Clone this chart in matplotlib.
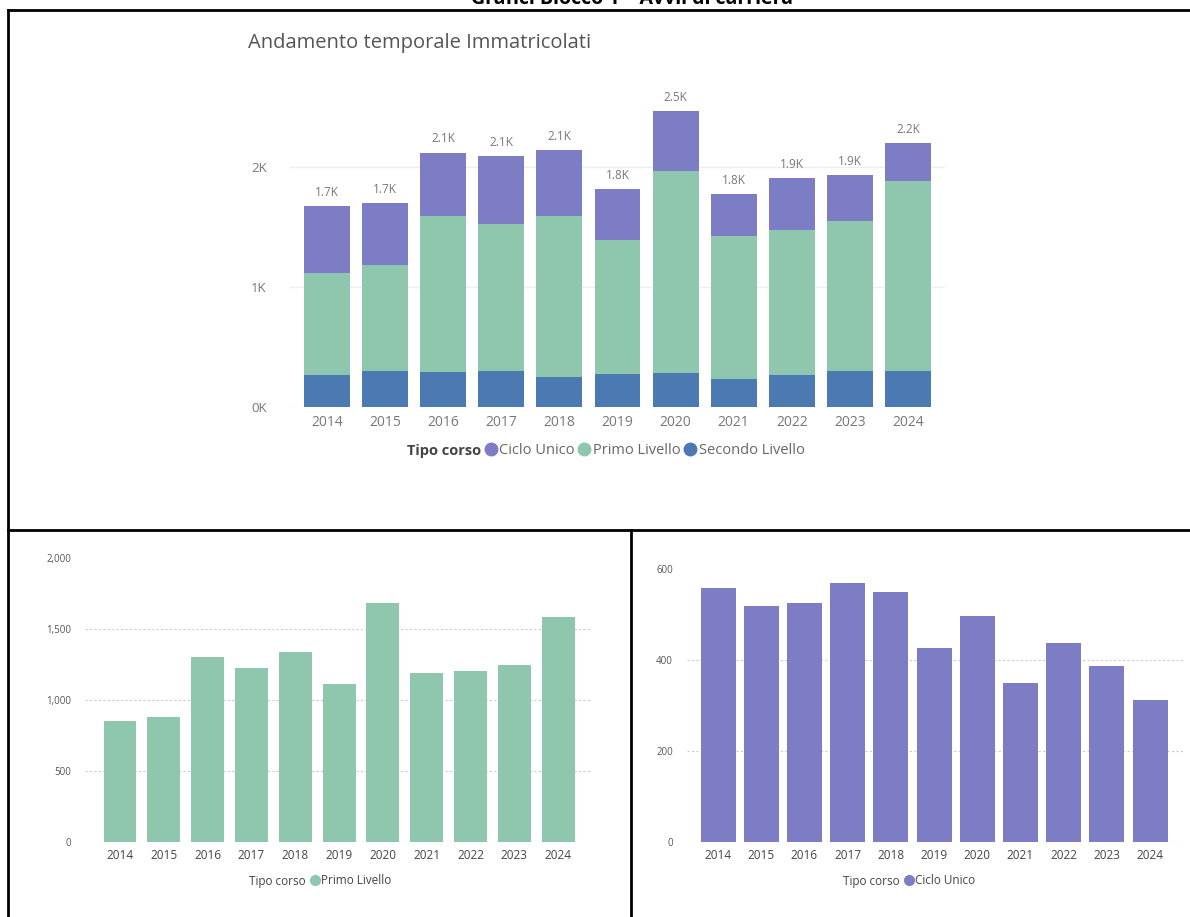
import matplotlib
matplotlib.use("Agg")
import matplotlib.pyplot as plt
import numpy as np
from matplotlib.lines import Line2D

plt.rcParams['font.family'] = ['Open Sans', 'DejaVu Sans']

# dati
anni = ["2014", "2015", "2016", "2017", "2018", "2019", "2020", "2021", "2022", "2023", "2024"]
secondo_livello = [267, 300, 292, 300, 250, 275, 283, 233, 267, 300, 300]
primo_livello = [852, 880, 1303, 1225, 1340, 1113, 1683, 1190, 1204, 1246, 1585]
ciclo_unico = [558, 519, 525, 569, 550, 426, 497, 349, 437, 387, 312]
serie = ["Ciclo Unico", "Primo Livello", "Secondo Livello"]

c_ciclo = "#7D7DC5"
c_primo = "#8FC6AE"
c_secondo = "#4B79B1"
grigio = "#777777"

W, H = 1190, 917
fig = plt.figure(figsize=(W / 100, H / 100), dpi=100)

# cornici della tabella (coordinate in pixel)
bg = fig.add_axes([0, 0, 1, 1])
bg.set_xlim(0, W)
bg.set_ylim(H, 0)
bg.axis('off')
bg.plot([8, W], [10, 10], color="black", lw=2)
bg.plot([8, 8], [10, H], color="black", lw=2)
bg.plot([8, W], [530, 530], color="black", lw=2)
bg.plot([631, 631], [530, H], color="black", lw=2)
bg.text(632, 4, "Grafici Blocco 1 \u2013 Avvii di carriera", ha="center", va="baseline",
        fontsize=14, fontweight="bold", color="black")

x = np.arange(len(anni))
sec = np.array(secondo_livello)
pri = np.array(primo_livello)
cic = np.array(ciclo_unico)
tot = sec + pri + cic

# grafico in alto: barre impilate
ax = fig.add_axes([290 / W, 1 - 407 / H, 655 / W, 312 / H])
ax.bar(x, sec, width=0.79, color=c_secondo, zorder=2)
ax.bar(x, pri, width=0.79, bottom=sec, color=c_primo, zorder=2)
ax.bar(x, cic, width=0.79, bottom=sec + pri, color=c_ciclo, zorder=2)
for i in range(len(anni)):
    ax.text(x[i], tot[i] + 60, "{:.1f}K".format(tot[i] / 1000), ha="center", va="bottom",
            fontsize=8.5, color=grigio)
ax.set_xlim(-0.64, 10.64)
ax.set_ylim(0, 2600)
ax.set_xticks(x)
ax.set_xticklabels(anni)
ax.set_yticks([0, 1000, 2000])
ax.set_yticklabels(["0K", "1K", "2K"], ha="left")
ax.tick_params(axis="y", length=0, pad=28, labelsize=9.5, labelcolor=grigio)
ax.tick_params(axis="x", length=0, pad=6, labelsize=10, labelcolor=grigio)
ax.grid(axis="y", color="#eeeeee", lw=1, zorder=0)
for s in ax.spines.values():
    s.set_visible(False)
ax.text(248 / W, 1 - 43 / H, "Andamento temporale Immatricolati", transform=fig.transFigure,
        ha="left", va="center", fontsize=14.5, color="#555555")

maniglie = [Line2D([], [], linestyle="none", marker=None)]
for c in [c_ciclo, c_primo, c_secondo]:
    maniglie.append(Line2D([], [], linestyle="none", marker="o", markersize=9, color=c))
leg = fig.legend(maniglie, ["Tipo corso"] + serie, loc="center", bbox_to_anchor=(599 / W, 1 - 451 / H),
                 ncol=4, frameon=False, handlelength=0.7, handletextpad=0.25, columnspacing=0.3,
                 fontsize=10.5, labelcolor="#666666")
leg.get_texts()[0].set_fontweight("bold")
leg.get_texts()[0].set_color("#444444")

# grafici in basso: una serie per volta
def grafico_singolo(rect, valori, colore, xlim, ylim, ticks, etichette, larghezza, nome, leg_x):
    a = fig.add_axes(rect)
    a.bar(x, valori, width=larghezza, color=colore, zorder=2)
    a.set_xlim(*xlim)
    a.set_ylim(0, ylim)
    a.set_xticks(x)
    a.set_xticklabels(anni)
    a.set_yticks(ticks)
    a.set_yticklabels(etichette)
    a.tick_params(axis="y", length=0, pad=10, labelsize=7, labelcolor="#555555")
    a.tick_params(axis="x", length=0, pad=5, labelsize=8.5, labelcolor="#444444")
    for t in ticks:
        if t < ylim:
            a.axhline(t, color="#cccccc", lw=0.8, ls=(0, (2, 2)), zorder=0)
    for s in a.spines.values():
        s.set_visible(False)
    mm = [Line2D([], [], linestyle="none", marker=None),
          Line2D([], [], linestyle="none", marker="o", markersize=7, color=colore)]
    l = fig.legend(mm, ["Tipo corso", nome], loc="center", bbox_to_anchor=(leg_x / W, 1 - 881 / H),
                   ncol=2, frameon=False, handlelength=0.6, handletextpad=0.2, columnspacing=0.5,
                   fontsize=8.5, labelcolor="#444444")
    return a

grafico_singolo([85 / W, 1 - 842 / H, 506 / W, 284 / H], primo_livello, c_primo,
                (-0.8, 10.75), 2000, [0, 500, 1000, 1500, 2000],
                ["0", "500", "1,000", "1,500", "2,000"], 0.75, "Primo Livello", 315)
grafico_singolo([687 / W, 1 - 842 / H, 498 / W, 273 / H], ciclo_unico, c_ciclo,
                (-0.72, 10.81), 600, [0, 200, 400, 600],
                ["0", "200", "400", "600"], 0.81, "Ciclo Unico", 904)

fig.savefig("out.png", dpi=100)
